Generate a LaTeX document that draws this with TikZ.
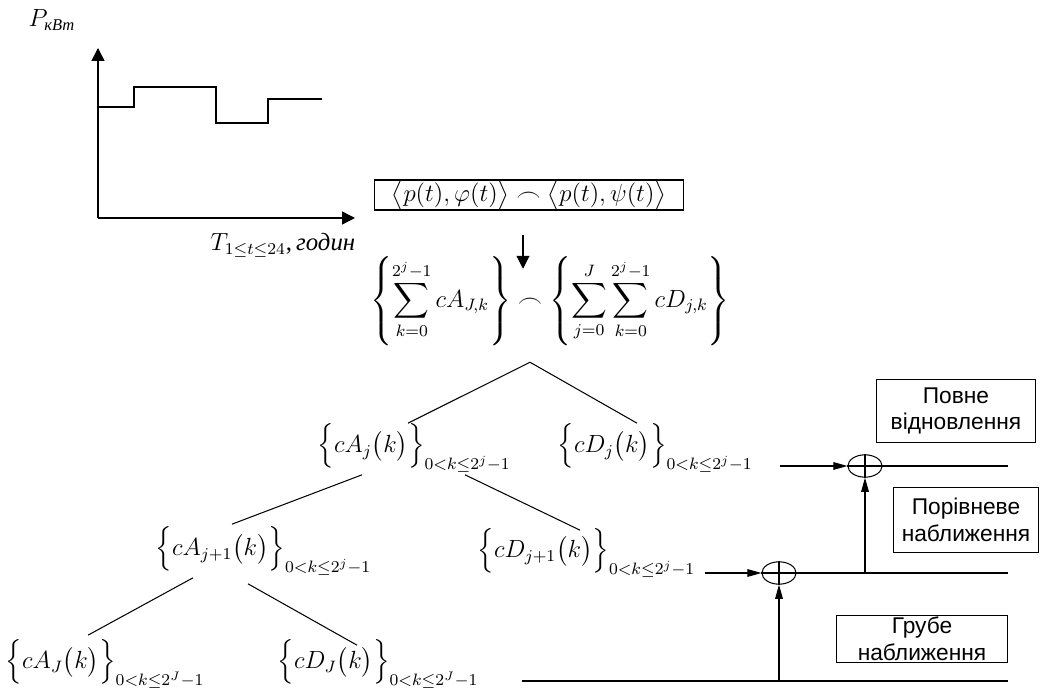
\documentclass[tikz,border=0pt]{standalone}
\usepackage{amsmath,amssymb}
\usepackage{fontspec}
\setmainfont{Liberation Serif}
\setsansfont{Liberation Sans}
\usetikzlibrary{arrows.meta, positioning, calc, shapes.geometric}

\begin{document}
\begin{tikzpicture}[
    x=0.17mm, y=-0.17mm,
    line width=0.5pt,
    formula/.style={inner sep=1pt, font=\large},
    textbox/.style={rectangle, draw, align=center, inner sep=1pt,
                    font=\sffamily\fontsize{11}{13}\selectfont},
    adder/.style={ellipse, draw, minimum width=5.8mm, minimum height=3.8mm, inner sep=0pt},
    arrow/.style={-{Triangle[length=2.4mm, width=1.3mm]}},
    axisarrow/.style={-{Triangle[length=2.2mm, width=2.2mm]}, line width=0.7pt},
]
  \useasboundingbox (0,0) rectangle (1041,688);

  % Load graph
  \coordinate (origin) at (98,218);
  \coordinate (ytop) at (98,48);
  \coordinate (xend) at (355,218);
  \draw[axisarrow] (origin) -- (ytop);
  \draw[axisarrow] (origin) -- (xend);
  \draw[line width=0.9pt] (98,107) -| (134,87) -| (216,123) -| (268,99) -- (322,99);
  \node[formula] (plabel) at (52,20) {$P_{\textit{кВт}}$};
  \node[formula, anchor=west] (tlabel) at (208,245) {$T_{1\le t\le 24}$,\,\textit{годин}};

  % Transform and decomposition
  \node[formula, draw, minimum width=52.4mm, minimum height=5.1mm, inner sep=0pt] (inner) at (529,195)
    {$\bigl\langle p(t),\varphi(t)\bigr\rangle\frown\bigl\langle p(t),\psi(t)\bigr\rangle$};
  \node[formula] (sumexpr) at (550,301)
    {$\displaystyle\left\{\sum_{k=0}^{2^j-1} cA_{J,k}\right\}\frown
      \left\{\sum_{j=0}^{J}\sum_{k=0}^{2^j-1} cD_{j,k}\right\}$};
  \draw[axisarrow, line width=0.5pt] ($(inner.south)+(-6,24)$) -- ($(sumexpr.north)+(-27,15)$);

  % Wavelet tree
  \node[formula, anchor=west] (cAj) at (315,448) {$\Bigl\{cA_j\bigl(k\bigr)\Bigr\}_{0<k\le 2^j-1}$};
  \node[formula, anchor=west] (cDj) at (555,448) {$\Bigl\{cD_j\bigl(k\bigr)\Bigr\}_{0<k\le 2^j-1}$};
  \node[formula, anchor=west] (cAj1) at (153,551) {$\Bigl\{cA_{j+1}\bigl(k\bigr)\Bigr\}_{0<k\le 2^j-1}$};
  \node[formula, anchor=west] (cDj1) at (475,553) {$\Bigl\{cD_{j+1}\bigl(k\bigr)\Bigr\}_{0<k\le 2^j-1}$};
  \node[formula, anchor=west] (cAJ) at (3,664) {$\Bigl\{cA_J\bigl(k\bigr)\Bigr\}_{0<k\le 2^J-1}$};
  \node[formula, anchor=west] (cDJ) at (275,664) {$\Bigl\{cD_J\bigl(k\bigr)\Bigr\}_{0<k\le 2^J-1}$};

  \coordinate (apex) at ($(sumexpr.south)+(-20,14)$);
  \draw (apex) -- ($(cAj.north west)+(93,2)$);
  \draw (apex) -- ($(cDj.north west)+(82,2)$);
  \draw ($(cAj.south west)+(47,0)$) -- ($(cAj1.north west)+(79,0)$);
  \draw ($(cAj.south west)+(150,0)$) -- ($(cDj1.north west)+(105,4)$);
  \draw ($(cAj1.south west)+(40,0)$) -- ($(cAJ.north west)+(85,-2)$);
  \draw ($(cAj1.south west)+(95,6)$) -- ($(cDJ.north west)+(82,8)$);

  % Reconstruction
  \node[adder] (sumA) at (865,466) {};
  \node[adder] (sumB) at (779,573) {};
  \draw (sumA.north) -- (sumA.south) (sumA.west) -- (sumA.east);
  \draw (sumB.north) -- (sumB.south) (sumB.west) -- (sumB.east);

  \coordinate (inA) at (780,466);
  \coordinate (outA) at (1008,466);
  \coordinate (inB) at (705,573);
  \coordinate (outB) at (1008,573);
  \coordinate (inC) at (522,681);
  \coordinate (outC) at (1008,681);

  \draw[arrow] (inA) -- (sumA.west);
  \draw (sumA.east) -- (outA);
  \draw[arrow] (inB) -- (sumB.west);
  \draw (sumB.east) -- (outB);
  \draw[arrow] (sumA.south |- sumB) -- (sumA.south);
  \draw (inC) -- (outC);
  \draw[arrow] (sumB.south |- inC) -- (sumB.south);

  \node[textbox, minimum width=26.9mm, minimum height=10.7mm] (full) at (956,411) {Повне\\відновлення};
  \node[textbox, minimum width=24.7mm, minimum height=10.9mm] (level) at (966,520) {Порівневе\\наближення};
  \node[textbox, minimum width=29.1mm, minimum height=7.7mm] (coarse) at (922,639) {Грубе\\наближення};
\end{tikzpicture}
\end{document}
